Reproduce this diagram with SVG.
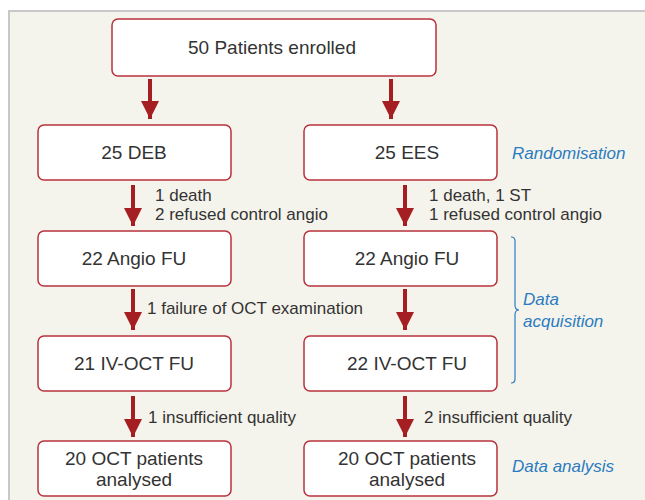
<svg xmlns="http://www.w3.org/2000/svg" width="645" height="500" viewBox="0 0 645 500">
<defs>
<style>
.box{fill:#fff;stroke:#b8323c;stroke-width:1.5}
.bt{font-family:"Liberation Sans",Arial,sans-serif;font-size:19px;fill:#333;text-anchor:middle}
.lb{font-family:"Liberation Sans",Arial,sans-serif;font-size:17px;fill:#333}
.bl{font-family:"Liberation Sans",Arial,sans-serif;font-size:17px;font-style:italic;fill:#2b7cc0}
.ar{stroke:#a41e22;stroke-width:4;fill:none}
</style>
<marker id="ah" viewBox="0 0 10 10" refX="10" refY="5" markerWidth="4.5" markerHeight="5" markerUnits="strokeWidth" orient="auto">
<path d="M0,0 L10,5 L0,10 z" fill="#a41e22"/>
</marker>
</defs>
<rect x="0" y="0" width="645" height="500" fill="#fff"/>
<rect x="9" y="11" width="650" height="500" fill="#f5f4ec" stroke="#c8c8c8" stroke-width="2"/>

<g id="n-enrolled"><rect class="box" x="112" y="19" width="324" height="57" rx="6"/><text class="bt" x="272" y="54">50 Patients enrolled</text></g>
<g id="n-deb"><rect class="box" x="38" y="125" width="193" height="55" rx="6"/><text class="bt" x="134" y="159">25 DEB</text></g>
<g id="n-ees"><rect class="box" x="304" y="125" width="193" height="55" rx="6"/><text class="bt" x="407" y="159">25 EES</text></g>
<g id="n-angio-l"><rect class="box" x="38" y="231" width="193" height="55" rx="6"/><text class="bt" x="134" y="265">22 Angio FU</text></g>
<g id="n-angio-r"><rect class="box" x="304" y="231" width="193" height="55" rx="6"/><text class="bt" x="407" y="265">22 Angio FU</text></g>
<g id="n-oct-l"><rect class="box" x="38" y="336" width="193" height="55" rx="6"/><text class="bt" x="134" y="370">21 IV-OCT FU</text></g>
<g id="n-oct-r"><rect class="box" x="304" y="336" width="193" height="55" rx="6"/><text class="bt" x="407" y="370">22 IV-OCT FU</text></g>
<g id="n-an-l"><rect class="box" x="38" y="441" width="193" height="55" rx="6"/><text class="bt" x="134" y="465">20 OCT patients</text><text class="bt" x="134" y="486">analysed</text></g>
<g id="n-an-r"><rect class="box" x="304" y="441" width="193" height="55" rx="6"/><text class="bt" x="407" y="465">20 OCT patients</text><text class="bt" x="407" y="486">analysed</text></g>

<g id="connectors">
<line class="ar" x1="150" y1="79" x2="150" y2="119" marker-end="url(#ah)"/>
<line class="ar" x1="391" y1="79" x2="391" y2="119" marker-end="url(#ah)"/>
<line class="ar" x1="133" y1="185" x2="133" y2="226" marker-end="url(#ah)"/>
<line class="ar" x1="405" y1="185" x2="405" y2="226" marker-end="url(#ah)"/>
<line class="ar" x1="133" y1="289" x2="133" y2="330" marker-end="url(#ah)"/>
<line class="ar" x1="405" y1="289" x2="405" y2="330" marker-end="url(#ah)"/>
<line class="ar" x1="133" y1="396" x2="133" y2="437" marker-end="url(#ah)"/>
<line class="ar" x1="405" y1="396" x2="405" y2="437" marker-end="url(#ah)"/>
</g>

<g id="labels">
<text class="lb" x="155" y="201">1 death</text>
<text class="lb" x="155" y="220">2 refused control angio</text>
<text class="lb" x="429" y="201">1 death, 1 ST</text>
<text class="lb" x="429" y="220">1 refused control angio</text>
<text class="lb" x="147" y="314">1 failure of OCT examination</text>
<text class="lb" x="148" y="423">1 insufficient quality</text>
<text class="lb" x="424" y="423">2 insufficient quality</text>
</g>

<g id="annotations">
<text class="bl" x="512" y="159">Randomisation</text>
<path d="M511,237 Q515,237 515,241 L515,305 Q515,310 519,310 Q515,310 515,315 L515,379 Q515,383 511,383" fill="none" stroke="#2b7cc0" stroke-width="1.2"/>
<text class="bl" x="523" y="305">Data</text>
<text class="bl" x="523" y="327">acquisition</text>
<text class="bl" x="512" y="472">Data analysis</text>
</g>
</svg>
